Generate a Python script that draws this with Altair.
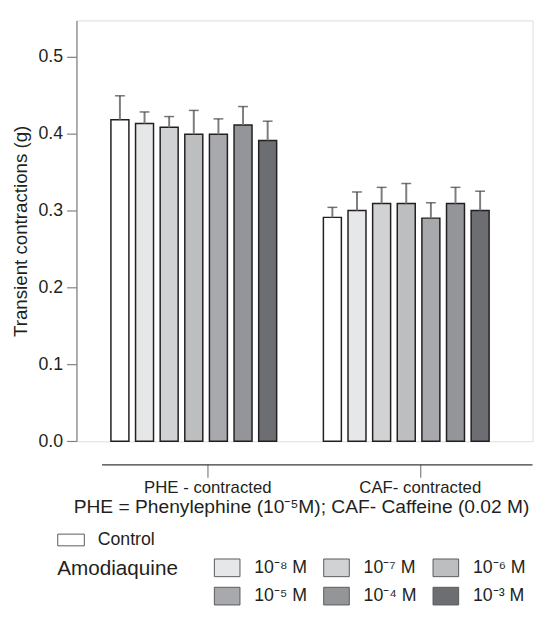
import altair as alt
import pandas as pd

groups = ["PHE - contracted", "CAF- contracted"]
treatments = ["Control", "10⁻⁸ M", "10⁻⁷ M", "10⁻⁶ M", "10⁻⁵ M", "10⁻⁴ M", "10⁻³ M"]
phe_mean = [0.418, 0.413, 0.408, 0.399, 0.399, 0.411, 0.391]
phe_sem = [0.031, 0.015, 0.014, 0.031, 0.020, 0.024, 0.025]
caf_mean = [0.291, 0.300, 0.309, 0.309, 0.290, 0.309, 0.300]
caf_sem = [0.013, 0.024, 0.021, 0.026, 0.020, 0.021, 0.025]
fills = ["#ffffff", "#e6e7e8", "#d1d2d4", "#bcbec0", "#a7a9ac", "#939598", "#6d6e71"]
y_ticks = [0.0, 0.1, 0.2, 0.3, 0.4, 0.5]

rows = []
for g, means, sems in [(groups[0], phe_mean, phe_sem), (groups[1], caf_mean, caf_sem)]:
    for t, m, s in zip(treatments, means, sems):
        rows.append({"group": g, "treatment": t, "mean": m, "top": m + s})
df = pd.DataFrame(rows)

FONT = "Liberation Sans"
TXT = "#231f20"

x_enc = alt.X(
    "group:N", sort=groups,
    scale=alt.Scale(domain=groups, range=[25.5, 462.5], paddingInner=0, paddingOuter=0.013, align=0),
    axis=alt.Axis(
        title="PHE = Phenylephine (10⁻⁵M); CAF- Caffeine (0.02 M)",
        orient="bottom", offset=23.4, domainColor="#3a3a3a", domainWidth=1.2,
        tickColor="#808080", tickSize=13, tickWidth=1.2,
        labelFontSize=17, labelPadding=3, labelColor=TXT, labelAngle=0, labelFont=FONT,
        titleFontSize=19.5, titleFontWeight="normal", titleFont=FONT, titleColor=TXT,
        titleX=228, titleY=33.5, titleBaseline="top", titleAnchor="middle", titleAlign="center",
    ),
)
xo_enc = alt.XOffset(
    "treatment:N", sort=treatments,
    scale=alt.Scale(domain=treatments, paddingInner=0.27, paddingOuter=0.949, align=0.2),
)
y_enc = alt.Y(
    "mean:Q",
    scale=alt.Scale(domain=[0, 0.547], nice=False, zero=True),
    axis=alt.Axis(
        values=y_ticks, format=".1f", title="Transient contractions (g)",
        domainColor="#808080", domainWidth=1.2, tickColor="#808080", tickSize=10, tickWidth=1.2,
        labelFontSize=18, labelPadding=4, labelColor=TXT, labelFont=FONT,
        titleFontSize=19, titleFontWeight="normal", titleFont=FONT, titleColor=TXT,
        titleX=-57, titleBaseline="middle", grid=False,
    ),
)

ctrl_path = "M-1,-0.44H1V0.44H-1Z"
amod_path = "M-1,-0.69H1V0.69H-1Z"

base = alt.Chart(df)

ctrl_bars = base.transform_filter(alt.datum.treatment == "Control").mark_bar(
    stroke=TXT, strokeWidth=1.5
).encode(
    x=x_enc, xOffset=xo_enc, y=y_enc,
    fill=alt.Fill(
        "treatment:N",
        scale=alt.Scale(domain=treatments[:1], range=fills[:1]),
        legend=alt.Legend(
            orient="none", legendX=-19.5, legendY=513.5, title=None,
            symbolType=ctrl_path, symbolSize=729, symbolStrokeColor="#58595b", symbolStrokeWidth=1,
            labelFontSize=18, labelFont=FONT, labelColor=TXT, labelOffset=13,
        ),
    ),
)

amod_bars = base.transform_filter(alt.datum.treatment != "Control").mark_bar(
    stroke=TXT, strokeWidth=1.5
).encode(
    x=x_enc, xOffset=xo_enc, y=y_enc,
    fill=alt.Fill(
        "treatment:N", sort=treatments[1:],
        scale=alt.Scale(domain=treatments[1:], range=fills[1:]),
        legend=alt.Legend(
            orient="none", legendX=-19.5, legendY=542, title="Amodiaquine",
            direction="horizontal",
            titleOrient="left", titleFontSize=21, titleFontWeight="normal", titleFont=FONT,
            titleColor=TXT, titlePadding=36, titleAnchor="start",
            titleBaseline="line-top", titleLineHeight=29,
            columns=3, columnPadding=14, rowPadding=4,
            symbolType=amod_path, symbolSize=676, symbolStrokeColor="#58595b", symbolStrokeWidth=1,
            labelFontSize=18, labelFont=FONT, labelColor=TXT, labelOffset=14,
        ),
    ),
)

whisker = base.mark_rule(color="#7d7d7d", strokeWidth=2).encode(
    x=x_enc, xOffset=xo_enc, y=alt.Y("mean:Q"), y2="top:Q"
)
cap = base.mark_tick(orient="horizontal", size=10, thickness=1.5, color="#3a3a3a").encode(
    x=x_enc, xOffset=xo_enc, y=alt.Y("top:Q")
)

chart = alt.layer(ctrl_bars, amod_bars, whisker, cap).resolve_scale(
    fill="independent"
).properties(
    width=463, height=427.3,
    autosize=alt.AutoSizeParams(type="none"),
    padding={"left": 69.5, "top": 8, "right": 1.5, "bottom": 166},
).configure_view(stroke=None).configure(font=FONT)

chart.save("out.html", embed_options={"renderer": "svg", "actions": False})
